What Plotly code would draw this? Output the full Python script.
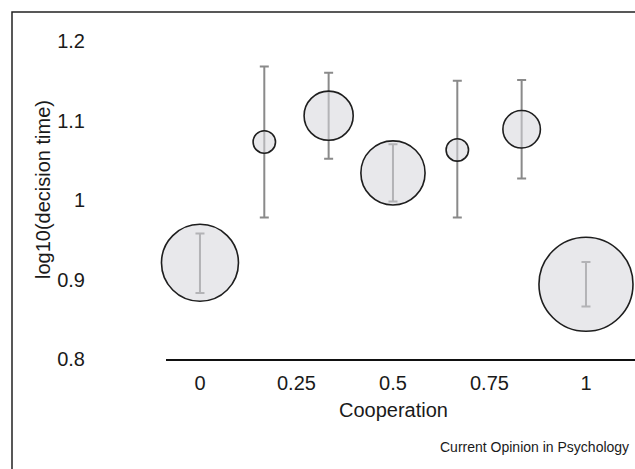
import plotly.graph_objects as go

# Data
cooperation = [0, 1/6, 2/6, 3/6, 4/6, 5/6, 1]
log_time = [0.921, 1.073, 1.106, 1.034, 1.063, 1.089, 0.894]
ci_upper = [0.958, 1.168, 1.160, 1.070, 1.150, 1.151, 0.922]
ci_lower = [0.883, 0.978, 1.052, 0.998, 0.978, 1.027, 0.866]
n_obs = [59, 5, 24, 41, 5, 14, 88]

x_ticks = [0, 0.25, 0.5, 0.75, 1]
x_ticklabels = ["0", "0.25", "0.5", "0.75", "1"]
y_ticks = [0.8, 0.9, 1.0, 1.1, 1.2]
y_ticklabels = ["0.8", "0.9", "1", "1.1", "1.2"]

err_plus = [u - m for u, m in zip(ci_upper, log_time)]
err_minus = [m - l for m, l in zip(log_time, ci_lower)]

FONT = "Liberation Sans, Arial, Helvetica, sans-serif"
W, H = 635, 469
ML, MR, MT, MB = 166, 0, 41, 110
PW, PH = W - ML - MR, H - MT - MB


def px_to_paper(px, py):
    return (px - ML) / PW, (H - MB - py) / PH


fig = go.Figure()
fig.add_trace(go.Scatter(
    x=cooperation, y=log_time, mode="markers",
    marker=dict(size=n_obs, sizemode="area", sizeref=0.0199, opacity=1,
                color="rgba(214,214,218,0.55)",
                line=dict(color="#1e1e1e", width=1.6)),
    error_y=dict(type="data", symmetric=False, array=err_plus, arrayminus=err_minus,
                 color="#8a8a8a", thickness=2, width=4.5),
    cliponaxis=False, showlegend=False, hoverinfo="skip",
))

fx0, fy1 = px_to_paper(12, 12)
fx1, fy0 = px_to_paper(W + 10, H + 10)

ann = []
for text, px, py, size, angle, xa in [
    ("Cooperation", 393, 410, 20, 0, "center"),
    ("log10(decision time)", 43, 190, 20, -90, "center"),
    ("Current Opinion in Psychology", 631, 447, 14, 0, "right"),
]:
    ax, ay = px_to_paper(px, py)
    ann.append(dict(text=text, x=ax, y=ay, xref="paper", yref="paper",
                    xanchor=xa, yanchor="middle", textangle=angle, showarrow=False,
                    font=dict(size=size, family=FONT, color="#1a1a1a")))

fig.update_layout(
    width=W, height=H,
    margin=dict(l=ML, r=MR, t=MT, b=MB),
    paper_bgcolor="white", plot_bgcolor="white",
    font=dict(family=FONT, size=20, color="#1a1a1a"),
    xaxis=dict(range=[-0.088, 1.127], tickvals=x_ticks, ticktext=x_ticklabels,
               showgrid=False, zeroline=False, showline=True, linecolor="#111111",
               linewidth=2, ticks="", ticklabelstandoff=5,
               tickfont=dict(size=20, family=FONT, color="#1a1a1a")),
    yaxis=dict(range=[0.8, 1.2], tickvals=y_ticks, ticktext=y_ticklabels,
               showgrid=False, zeroline=False, showline=False, ticks="",
               ticklabelstandoff=80,
               tickfont=dict(size=20, family=FONT, color="#1a1a1a")),
    shapes=[dict(type="rect", xref="paper", yref="paper",
                 x0=fx0, x1=fx1, y0=fy0, y1=fy1,
                 line=dict(color="#222222", width=1.5), fillcolor="rgba(0,0,0,0)")],
    annotations=ann,
)

fig.write_html("out.html", config={"displayModeBar": False},
               post_script="document.body.style.margin='0px';")
